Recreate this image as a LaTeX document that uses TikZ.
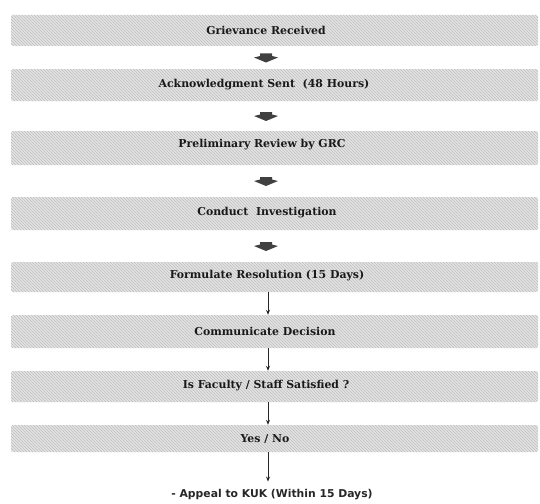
\documentclass[tikz,border=0pt]{standalone}
\usepackage{fontspec}
\setmainfont{DejaVu Serif}
\newfontfamily\appfont{DejaVu Sans}
\usetikzlibrary{patterns,calc,arrows.meta}
\begin{document}
\begin{tikzpicture}[x=1pt,y=-1pt,
  box/.style={minimum width=527pt, inner sep=0pt, fill=gray!22, rounded corners=1.5pt,
    postaction={pattern=north west lines, pattern color=gray!50}},
  lbl/.style={font=\bfseries\fontsize{10.9}{12}\selectfont, inner sep=0pt, text=black!90},
  lastlbl/.style={font=\appfont\bfseries\fontsize{10.8}{12}\selectfont, inner sep=0pt, text=black!85},
  thinarrow/.style={-{Stealth[length=5pt,width=4pt]}, line width=0.8pt, black!85},
  fatarrow/.pic={\fill[black!75] (-6,-4) -- (6,-4) -- (6,-1.5) -- (12,0) -- (0,5) -- (-12,0) -- (-6,-1.5) -- cycle;}
]
\useasboundingbox (0,0) rectangle (540,503);

% boxes
\node[box, minimum height=31pt] (b1) at (274.5,30.5) {};
\node[box, minimum height=32pt] (b2) at (274.5,85) {};
\node[box, minimum height=34pt] (b3) at (274.5,148) {};
\node[box, minimum height=33pt] (b4) at (274.5,213.5) {};
\node[box, minimum height=30pt] (b5) at (274.5,277) {};
\node[box, minimum height=33pt] (b6) at (274.5,331.5) {};
\node[box, minimum height=31pt] (b7) at (274.5,386.5) {};
\node[box, minimum height=27pt] (b8) at (274.5,438.5) {};

% labels
\node[lbl] (t1) at (266,30) {Grievance Received};
\node[lbl] (t2) at (264,85) {Acknowledgment Sent\ \ (48 Hours)};
\node[lbl] (t3) at (262,145) {Preliminary Review by GRC};
\node[lbl] (t4) at (267,213) {Conduct\ \ Investigation};
\node[lbl] (t5) at (267,276) {Formulate Resolution (15 Days)};
\node[lbl] (t6) at (265,331) {Communicate Decision};
\node[lbl] (t7) at (266,386) {Is Faculty / Staff Satisfied ?};
\node[lbl] (t8) at (265,439) {Yes / No};
\node[lastlbl] (t9) at (272,495) {- Appeal to KUK (Within 15 Days)};

% fat arrows
\path ($(b1.south -| t1)!0.5!(b2.north -| t1)$) pic {fatarrow};
\path ($(b2.south -| t1)!0.5!(b3.north -| t1)$) pic {fatarrow};
\path ($(b3.south -| t1)!0.5!(b4.north -| t1)$) pic {fatarrow};
\path ($(b4.south -| t1)!0.5!(b5.north -| t1)$) pic {fatarrow};

% thin arrows
\coordinate (ax) at (268,0);
\draw[thinarrow] (b5.south -| ax) -- (b6.north -| ax);
\draw[thinarrow] (b6.south -| ax) -- (b7.north -| ax);
\draw[thinarrow] (b7.south -| ax) -- (b8.north -| ax);
\draw[thinarrow, shorten >=8pt] (b8.south -| ax) -- (t9.north -| ax);
\end{tikzpicture}
\end{document}
